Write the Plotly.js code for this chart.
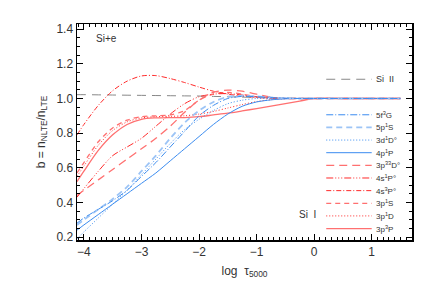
<!DOCTYPE html>
<html>
<head>
<meta charset="utf-8">
<script src="https://cdn.plot.ly/plotly-3.0.1.min.js"></script>
<style>html,body{margin:0;padding:0;background:#fff;}#chart{width:436px;height:290px;}</style>
</head>
<body>
<div id="chart"></div>
<script>
// log tau grid
const logTau = [-4.12, -4.0, -3.75, -3.5, -3.25, -3.0, -2.75, -2.5, -2.25, -2.0, -1.75, -1.5, -1.25, -1.0, -0.75, -0.5, -0.25, 0.0, 0.5, 1.0, 1.5];

// departure coefficients b = n_NLTE / n_LTE
const siII    = [1.022, 1.022, 1.021, 1.020, 1.019, 1.018, 1.017, 1.016, 1.015, 1.014, 1.012, 1.010, 1.008, 1.006, 1.004, 1.002, 1.001, 1.000, 1.000, 1.000, 1.000];
const b5f3G   = [0.28, 0.31, 0.36, 0.41, 0.47, 0.55, 0.63, 0.72, 0.81, 0.90, 0.96, 1.00, 1.012, 1.01, 1.005, 1.002, 1.0, 1.0, 1.0, 1.0, 1.0];
const b5p1S   = [0.27, 0.30, 0.36, 0.42, 0.49, 0.58, 0.67, 0.77, 0.86, 0.93, 0.98, 1.01, 1.016, 1.012, 1.006, 1.002, 1.0, 1.0, 1.0, 1.0, 1.0];
const b3d1D   = [0.19, 0.23, 0.31, 0.39, 0.47, 0.56, 0.65, 0.74, 0.82, 0.88, 0.93, 0.97, 0.99, 1.0, 1.0, 1.0, 1.0, 1.0, 1.0, 1.0, 1.0];
const b4p1P   = [0.24, 0.27, 0.33, 0.39, 0.45, 0.51, 0.57, 0.64, 0.71, 0.78, 0.85, 0.91, 0.955, 0.98, 0.992, 0.998, 1.0, 1.0, 1.0, 1.0, 1.0];
const b3p33D  = [0.44, 0.47, 0.53, 0.59, 0.65, 0.71, 0.77, 0.84, 0.92, 0.99, 1.035, 1.048, 1.042, 1.025, 1.008, 1.0, 1.0, 1.0, 1.0, 1.0, 1.0];
const b4s1P   = [0.43, 0.48, 0.58, 0.67, 0.72, 0.77, 0.84, 0.91, 0.97, 1.01, 1.025, 1.028, 1.02, 1.01, 1.003, 1.0, 1.0, 1.0, 1.0, 1.0, 1.0];
const b4s3P   = [0.79, 0.85, 0.96, 1.045, 1.10, 1.13, 1.132, 1.115, 1.092, 1.066, 1.042, 1.025, 1.014, 1.006, 1.001, 1.0, 1.0, 1.0, 1.0, 1.0, 1.0];
const b3p1S   = [0.57, 0.63, 0.75, 0.83, 0.875, 0.895, 0.90, 0.905, 0.93, 0.99, 1.025, 1.035, 1.025, 1.01, 1.003, 1.0, 1.0, 1.0, 1.0, 1.0, 1.0];
const b3p1D   = [0.55, 0.61, 0.73, 0.815, 0.865, 0.888, 0.895, 0.897, 0.90, 0.91, 0.925, 0.945, 0.965, 0.982, 0.993, 0.999, 1.0, 1.0, 1.0, 1.0, 1.0];
const b3p3P   = [0.52, 0.58, 0.70, 0.79, 0.85, 0.88, 0.888, 0.89, 0.89, 0.895, 0.905, 0.915, 0.928, 0.942, 0.956, 0.970, 0.985, 1.0, 1.0, 1.0, 1.0];

// level labels (legend order, top to bottom)
const levelLabels = ['5f<sup>3</sup>G', '5p<sup>1</sup>S', '3d<sup>1</sup>D°', '4p<sup>1</sup>P', '3p<sup>33</sup>D°',
                     '4s<sup>1</sup>P°', '4s<sup>3</sup>P°', '3p<sup>1</sup>S', '3p<sup>1</sup>D', '3p<sup>3</sup>P'];
const levelData = [b5f3G, b5p1S, b3d1D, b4p1P, b3p33D, b4s1P, b4s3P, b3p1S, b3p1D, b3p3P];

const xTicks = [-4, -3, -2, -1, 0, 1];
const yTicks = [0.2, 0.4, 0.6, 0.8, 1.0, 1.2, 1.4];

// styles
const BLUE = '#3b8cf0', LBLUE = '#9cc4f6', RED = '#ff2a2a', LRED = '#ff7070';
const styles = [
  {color: BLUE,  dash: '7px,2px,1px,2px', width: 1},
  {color: LBLUE, dash: '6px,4px', width: 1.8},
  {color: BLUE,  dash: '1px,2px', width: 1},
  {color: BLUE,  dash: 'solid', width: 1},
  {color: LRED,  dash: '8px,5px', width: 1.3},
  {color: RED,   dash: '7px,2px,1px,2px,1px,2px,1px,2px', width: 1},
  {color: RED,   dash: '5px,2px,1px,2px', width: 1},
  {color: LRED,  dash: '5px,4px', width: 1.3},
  {color: RED,   dash: '1px,2px', width: 1},
  {color: LRED,  dash: 'solid', width: 1.3}
];
const siIIStyle = {color: '#888888', dash: '9px,6px', width: 1};

const traces = [];
traces.push({x: logTau, y: siII, type: 'scatter', mode: 'lines', line: Object.assign({shape: 'spline'}, siIIStyle), hoverinfo: 'skip', showlegend: false});
for (let i = levelData.length - 1; i >= 0; i--) {
  traces.push({x: logTau, y: levelData[i], type: 'scatter', mode: 'lines',
    line: Object.assign({shape: 'spline', smoothing: 0.8}, styles[i]), hoverinfo: 'skip', showlegend: false});
}

// manual legend (positions in data coords)
const legX0 = 0.21, legX1 = 1.0, legTextX = 1.04;
const legY0 = 0.906, legStep = 0.073;
const shapes = [];
const annotations = [];
shapes.push({type: 'line', xref: 'x', yref: 'y', x0: legX0, x1: legX1, y0: 1.111, y1: 1.111,
  line: {color: siIIStyle.color, dash: siIIStyle.dash, width: 1}});
annotations.push({xref: 'x', yref: 'y', x: legTextX, y: 1.111, text: 'Si  II', showarrow: false,
  xanchor: 'left', yanchor: 'middle', font: {size: 9, color: '#333'}});
for (let i = 0; i < levelLabels.length; i++) {
  const yy = legY0 - i * legStep;
  shapes.push({type: 'line', xref: 'x', yref: 'y', x0: legX0, x1: legX1, y0: yy, y1: yy,
    line: {color: styles[i].color, dash: styles[i].dash, width: styles[i].width}});
  annotations.push({xref: 'x', yref: 'y', x: legTextX, y: yy, text: levelLabels[i], showarrow: false,
    xanchor: 'left', yanchor: 'middle', font: {size: 8, color: '#333'}});
}
annotations.push({xref: 'x', yref: 'y', x: -3.82, y: 1.345, text: 'Si+e', showarrow: false,
  xanchor: 'left', yanchor: 'middle', font: {size: 10, color: '#333'}});
annotations.push({xref: 'x', yref: 'y', x: -0.3, y: 0.33, text: 'Si  I', showarrow: false,
  xanchor: 'left', yanchor: 'middle', font: {size: 10, color: '#333'}});

const axisCommon = {
  showgrid: false, zeroline: false, showline: true, linecolor: '#000', linewidth: 1.5,
  mirror: 'allticks', ticks: 'inside', ticklen: 6, tickwidth: 1, tickcolor: '#000',
  tickfont: {size: 12, color: '#333'}
};

const layout = {
  width: 436, height: 290,
  margin: {l: 77, r: 24, t: 24, b: 50},
  paper_bgcolor: '#fff', plot_bgcolor: '#fff',
  font: {family: 'Liberation Sans, Arial, sans-serif', color: '#333'},
  xaxis: Object.assign({}, axisCommon, {
    range: [-4.12, 1.70], tickmode: 'array', tickvals: xTicks, ticktext: xTicks.map(v => v < 0 ? '\u2212' + Math.abs(v) : String(v)),
    minor: {dtick: 0.1, tick0: 0, ticks: 'inside', ticklen: 3, tickcolor: '#000', showgrid: false},
    title: {text: 'log  τ<sub>5000</sub>', font: {size: 12, color: '#333'}, standoff: 8}
  }),
  yaxis: Object.assign({}, axisCommon, {
    range: [0.183, 1.43], tickmode: 'array', tickvals: yTicks, ticktext: yTicks.map(v => v.toFixed(1)),
    minor: {dtick: 0.05, tick0: 0, ticks: 'inside', ticklen: 3, tickcolor: '#000', showgrid: false},
    title: {text: 'b = n<sub>NLTE</sub>/n<sub>LTE</sub>', font: {size: 12, color: '#333'}, standoff: 8}
  }),
  shapes: shapes,
  annotations: annotations,
  showlegend: false
};

Plotly.newPlot('chart', traces, layout, {staticPlot: true, displayModeBar: false});
</script>
</body>
</html>
